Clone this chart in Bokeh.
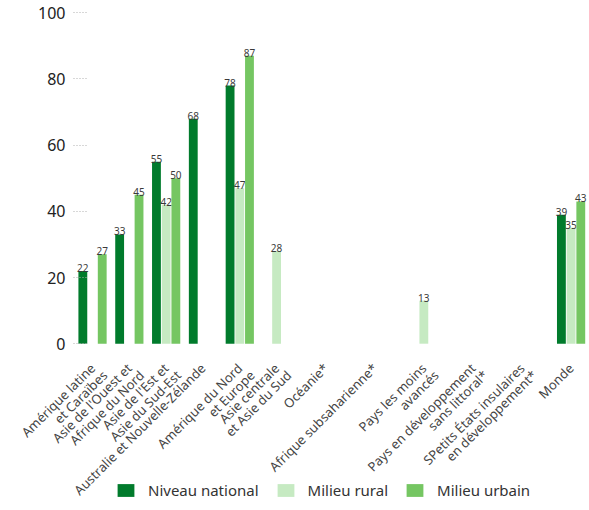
import math
import numpy as np
from bokeh.plotting import figure
from bokeh.models import (ColumnDataSource, FactorRange, Range1d, FixedTicker,
                          CategoricalAxis, Legend, LegendItem)
from bokeh.transform import dodge
from bokeh.core.properties import value
from bokeh.embed import file_html
from bokeh.resources import INLINE

nan = float("nan")

categories = [
    "Amérique latine\net Caraïbes",
    "Asie de l'Ouest et\nAfrique du Nord",
    "Asie de l'Est et\nAsie du Sud-Est",
    "Australie et Nouvelle-Zélande",
    "Amérique du Nord\net Europe",
    "Asie centrale\net Asie du Sud",
    "Océanie*",
    "Afrique subsaharienne*",
    "Pays les moins\navancés",
    "Pays en développement\nsans littoral*",
    "SPetits États insulaires\nen développement*",
    "Monde",
]
national = [22, 33, 55, 68, 78, nan, nan, nan, nan, nan, nan, 39]
rural = [nan, nan, 42, 0, 47, 28, nan, nan, 13, nan, nan, 35]
urban = [27, 45, 50, 0, 87, nan, nan, nan, nan, nan, nan, 43]

series = ["Niveau national", "Milieu rural", "Milieu urbain"]
colors = ["#017b2c", "#c6eac2", "#75c662"]
y_ticks = [0, 20, 40, 60, 80, 100]

FONT = "Noto Sans"
W, H = 589, 510

# each category label is shown on two rotated lines (two category axes)
first_lines = [c.split("\n")[0] for c in categories]
second_lines = [c.split("\n")[1] if "\n" in c else "" for c in categories]

# category slots: blank slots on the left leave room for the value axis,
# narrower pitch for the first groups, wider for the rest
gaps = [3] * 5 + [4] * 6

def build_factors(names, lead, trail):
    fs, k = [], 0
    def spacer():
        nonlocal k
        k += 1
        return " " * k
    fs += [spacer() for _ in range(lead)]
    fs.append(names[0] or spacer())
    for c, g in zip(names[1:], gaps):
        fs += [spacer() for _ in range(g - 1)]
        fs.append(c or spacer())
    fs += [spacer() for _ in range(trail)]
    return fs

main_factors = build_factors(first_lines, 7, 1)
line2_factors = build_factors(second_lines, 8, 0)   # same scale, shifted one slot
unit = W / len(main_factors)
yaxis_loc = 73 / unit

def lbl(vals):
    return ["" if (isinstance(v, float) and math.isnan(v)) or v == 0 else str(int(v)) for v in vals]

src = ColumnDataSource(dict(
    cat=first_lines,
    national=national, rural=rural, urban=urban,
    national_lbl=lbl(national), rural_lbl=lbl(rural), urban_lbl=lbl(urban),
))

# the frame covers the whole canvas; axes sit at fixed locations inside it
p = figure(
    x_range=FactorRange(*main_factors, range_padding=0),
    y_range=Range1d(-50.4, 103.7),
    width=W, height=H,
    min_border_left=0, min_border_right=0, min_border_top=0, min_border_bottom=0,
    output_backend="svg", toolbar_location=None,
)
p.extra_x_ranges = {"line2": FactorRange(*line2_factors, range_padding=0)}

offsets = [-0.79, 0.0, 0.79]
cols = ["national", "rural", "urban"]
renderers = []
for col, off, color in zip(cols, offsets, colors):
    r = p.vbar(x=dodge("cat", off, range=p.x_range), top=col, width=0.72, source=src,
               fill_color=color, line_color=None)
    renderers.append(r)
    p.text(x=dodge("cat", off, range=p.x_range), y=col, text=col + "_lbl", source=src,
           text_align="center", text_baseline="bottom", text_font_size="10px",
           text_color="#3a3a3a", text_font=value(FONT), y_offset=1)

p.grid.visible = False
p.outline_line_color = None
p.background_fill_color = "white"
p.border_fill_color = "white"

yax = p.yaxis[0]
yax.fixed_location = yaxis_loc
yax.ticker = FixedTicker(ticks=y_ticks, minor_ticks=[])
yax.axis_line_color = None
yax.major_tick_in = 14
yax.major_tick_out = 0
yax.major_tick_line_color = "#b0b0b0"
yax.major_tick_line_dash = "1 2"
yax.minor_tick_line_color = None
yax.major_label_text_font_size = "16px"
yax.major_label_text_font = FONT
yax.major_label_text_color = "#222222"
yax.major_label_standoff = 8

def style_cat_axis(ax, standoff):
    ax.fixed_location = 0
    ax.axis_line_color = None
    ax.major_tick_line_color = None
    ax.minor_tick_line_color = None
    ax.major_label_orientation = math.pi / 4
    ax.major_label_text_font_size = "13px"
    ax.major_label_text_font = FONT
    ax.major_label_text_color = "#444444"
    ax.major_label_standoff = standoff

style_cat_axis(p.xaxis[0], 16)

xax2 = CategoricalAxis(x_range_name="line2")
style_cat_axis(xax2, 23)
p.add_layout(xax2, "below")

legend = Legend(
    items=[LegendItem(label=s, renderers=[r]) for s, r in zip(series, renderers)],
    orientation="horizontal", location=(115, 10),
    glyph_width=21, glyph_height=16, label_height=16, label_standoff=12, spacing=16,
    padding=0, margin=0, border_line_color=None, background_fill_alpha=0,
    label_text_font_size="15px", label_text_color="#333333", label_text_font=FONT,
)
p.add_layout(legend)

open("out.html", "w").write(file_html(p, INLINE))
